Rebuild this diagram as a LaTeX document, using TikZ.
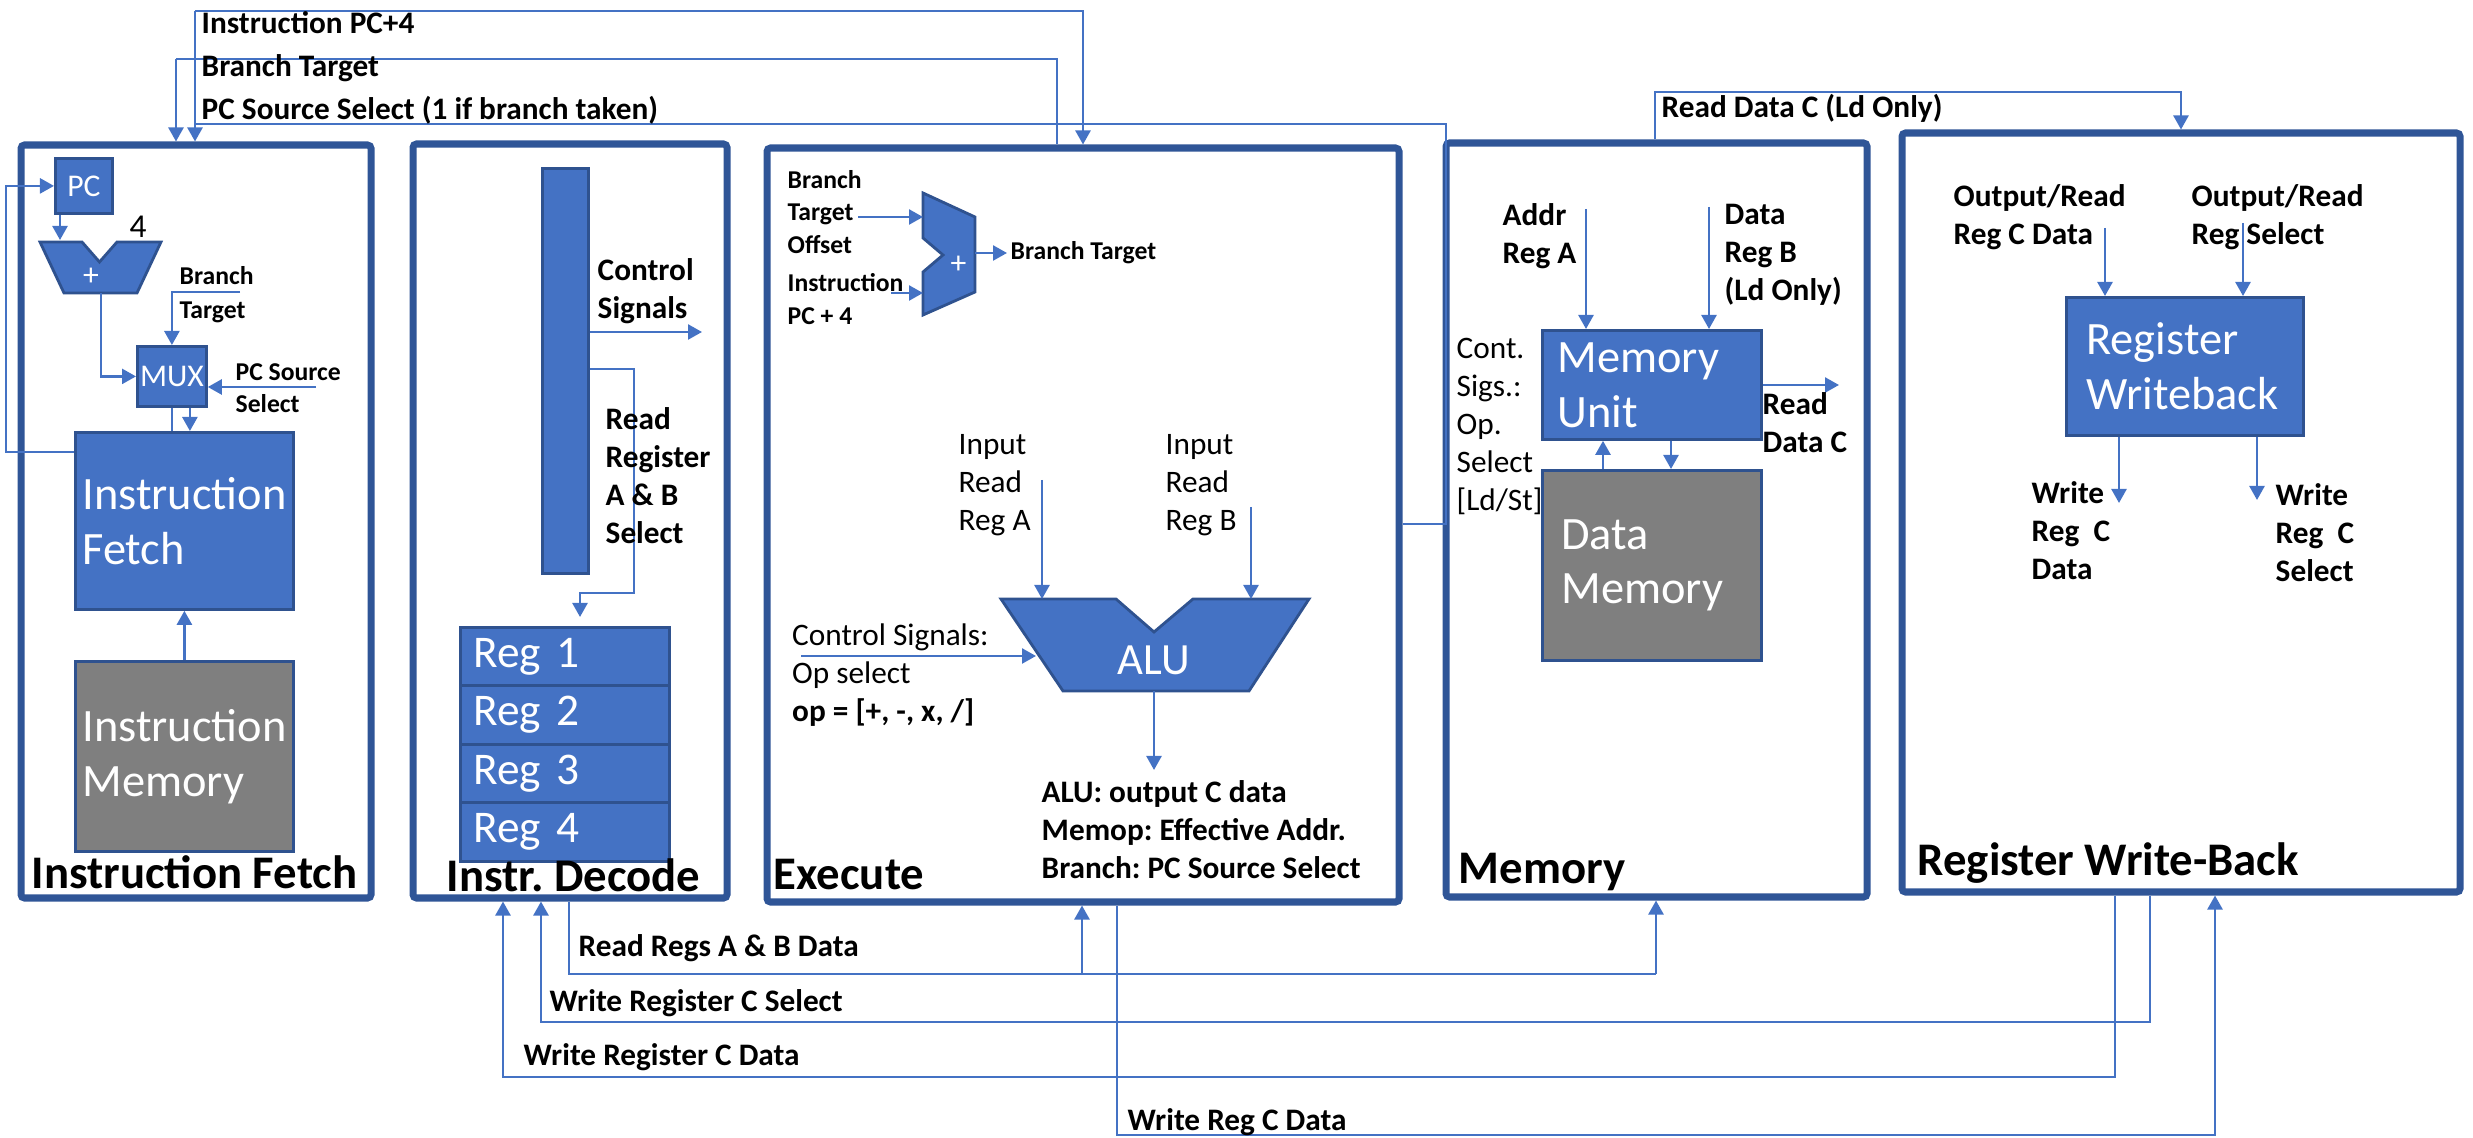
\documentclass[tikz,border=0pt]{standalone}
\usepackage{fontspec}
\setmainfont{Carlito}
\usepackage{xcolor}
\usetikzlibrary{arrows.meta, positioning}
\definecolor{boxblue}{HTML}{4472C4}
\definecolor{edgeblue}{HTML}{2F528F}
\definecolor{framblue}{HTML}{2F5597}
\definecolor{memgray}{HTML}{7F7F7F}
\frenchspacing

\begin{document}
\begin{tikzpicture}[x=1cm, y=-1cm,
  stage/.style={draw=framblue, line width=2pt, rounded corners=1pt, anchor=north west, inner sep=0pt},
  blk/.style={fill=boxblue, draw=edgeblue, line width=0.8pt, anchor=north west, inner sep=0pt, text=white},
  grayblk/.style={blk, fill=memgray},
  regbox/.style={minimum width=2.09cm, minimum height=0.585cm, text width=1.83cm, inner xsep=0.13cm, align=left, font=\fontsize{12.9}{14}\selectfont},
  wire/.style={draw=boxblue, line width=0.7pt},
  arr/.style={wire, -{Triangle[length=1.4mm, width=1.5mm]}},
  lbl/.style={anchor=west, inner sep=0pt, align=left, font=\bfseries\fontsize{8.9}{10.8}\selectfont},
  plbl/.style={lbl, font=\fontsize{8.9}{10.8}\selectfont},
  slbl/.style={lbl, font=\bfseries\fontsize{7.3}{9.2}\selectfont},
  wtxt/.style={font=\fontsize{13.2}{15.6}\selectfont, align=left},
  ttl/.style={anchor=west, inner sep=0pt, font=\bfseries\fontsize{13.3}{16}\selectfont}]
  \useasboundingbox (0,0) rectangle (24.73,11.38);

  % ---------- STAGE FRAMES ----------
  \node[stage, minimum width=3.50cm, minimum height=7.53cm] (sIF) at (0.175,1.415) {};
  \node[stage, minimum width=3.14cm, minimum height=7.54cm] (sID) at (4.095,1.405) {};
  \node[stage, minimum width=6.32cm, minimum height=7.54cm] (sEX) at (7.635,1.445) {};
  \node[stage, minimum width=4.21cm, minimum height=7.54cm] (sMEM) at (14.425,1.395) {};
  \node[stage, minimum width=5.58cm, minimum height=7.59cm] (sWB) at (18.985,1.295) {};

  % ---------- INSTRUCTION FETCH ----------
  \node[blk, minimum width=0.57cm, minimum height=0.55cm, font=\fontsize{9}{10}\selectfont] (pc) at (0.54,1.57) {PC};
  \coordinate (ad1) at (0.40,2.42);
  \coordinate (ad2) at (0.82,2.42);
  \coordinate (ad3) at (0.995,2.62);
  \coordinate (ad4) at (1.17,2.42);
  \coordinate (ad5) at (1.61,2.42);
  \coordinate (ad6) at (1.37,2.93);
  \coordinate (ad7) at (0.64,2.93);
  \filldraw[fill=boxblue, draw=edgeblue, line width=0.8pt] (ad1)--(ad2)--(ad3)--(ad4)--(ad5)--(ad6)--(ad7)--cycle;
  \node[text=white, font=\fontsize{9}{10}\selectfont] (addp) at (0.91,2.77) {+};
  \node[font=\fontsize{9.5}{10}\selectfont] (four) at (1.38,2.27) {4};
  \node[blk, minimum width=0.69cm, minimum height=0.60cm, font=\fontsize{9}{10}\selectfont] (mux) at (1.36,3.45) {MUX};
  \node[blk, wtxt, minimum width=2.18cm, minimum height=1.77cm] (ifblk) at (0.74,4.31) {Instruction\\Fetch};
  \node[grayblk, wtxt, minimum width=2.18cm, minimum height=1.90cm] (imem) at (0.74,6.60) {Instruction\\Memory};
  \node[ttl] (tIF) at (0.31,8.72) {Instruction Fetch};

  \draw[arr] ([yshift=-2.1mm]ifblk.north west) -- ++(-0.68,0) |- (pc.west);
  \coordinate (addin) at (0.60,2.40);
  \draw[arr] (pc.south -| addin) -- (addin);
  \coordinate (addout) at (1.01,2.93);
  \draw[arr] (addout) |- (mux.west);
  \coordinate (btin) at (2.40,2.92);
  \draw[arr] (btin) -| (mux.north);
  \node[slbl, font=\bfseries\fontsize{7.3}{9.7}\selectfont] (lbtin) at (1.79,2.95) {Branch\\Target};
  \coordinate (psin) at (3.16,3.87);
  \draw[arr] (psin) -- (psin -| mux.east);
  \node[slbl] (lpsin) at (2.35,3.885) {PC Source\\Select};
  \draw[wire] (mux.south) -- (mux.south |- ifblk.north);
  \draw[arr] ([xshift=1.8mm]mux.south) -- ([xshift=1.8mm]mux.south |- ifblk.north);
  \draw[arr] (imem.north) -- (ifblk.south);

  % ---------- TOP CONNECTORS ----------
  \coordinate (pcfour) at (1.95,0.11);
  \coordinate (pcfourR) at (10.83,0.11);
  \coordinate (btgt) at (1.76,0.59);
  \coordinate (btgtR) at (10.57,0.59);
  \coordinate (pssL) at (1.95,1.24);
  \coordinate (pssR) at (14.46,1.24);
  \coordinate (pssE) at (14.46,5.24);
  \draw[arr] (pcfour) -- (pcfour |- sIF.north);
  \draw[arr] (pcfour) -- (pcfourR) -- (pcfourR |- sEX.north);
  \draw[arr] (btgt) -- (btgt |- sIF.north);
  \draw[wire] (btgt) -- (btgtR) -- (btgtR |- sEX.north);
  \draw[wire] (pssE -| sEX.east) -- (pssE) -- (pssR) -- (pssL);
  \node[lbl] (lpc4) at (2.01,0.23) {Instruction PC+4};
  \node[lbl] (lbt) at (2.01,0.68) {Branch Target};
  \node[lbl] (lpss) at (2.01,1.10) {PC Source Select (1 if branch taken)};

  % ---------- INSTR. DECODE ----------
  \node[blk, minimum width=0.46cm, minimum height=4.05cm] (ctrl) at (5.41,1.67) {};
  \coordinate (csout) at (7.02,3.32);
  \draw[arr] (csout -| ctrl.east) -- (csout);
  \node[lbl] (lcs) at (5.97,2.91) {Control\\Signals};
  \coordinate (rrsel) at (6.34,3.69);
  \draw[arr] (rrsel -| ctrl.east) -- (rrsel) -- ++(0,2.24) -- ++(-0.54,0) -- ++(0,0.24);
  \node[lbl] (lrr) at (6.05,4.755) {Read\\Register\\A \& B\\Select};
  \foreach \i in {1,...,4}
    \node[blk, regbox] (reg\i) at (4.59,{6.26+0.585*(\i-1)}) {Reg \i};
  \node[ttl] (tID) at (4.46,8.75) {Instr. Decode};

  % ---------- EXECUTE ----------
  \coordinate (ba1) at (9.23,1.93);
  \coordinate (ba2) at (9.75,2.17);
  \coordinate (ba3) at (9.75,2.92);
  \coordinate (ba4) at (9.23,3.15);
  \coordinate (ba5) at (9.23,2.72);
  \coordinate (ba6) at (9.43,2.55);
  \coordinate (ba7) at (9.23,2.38);
  \filldraw[fill=boxblue, draw=edgeblue, line width=0.8pt] (ba1)--(ba2)--(ba3)--(ba4)--(ba5)--(ba6)--(ba7)--cycle;
  \node[text=white, font=\fontsize{9}{10}\selectfont] (bap) at (9.585,2.65) {+};
  \coordinate (bin1) at (9.23,2.17);
  \coordinate (bin2) at (9.23,2.93);
  \coordinate (bout) at (9.75,2.53);
  \draw[arr] ([xshift=-6.5mm]bin1) -- (bin1);
  \draw[arr] ([xshift=-3.2mm]bin2) -- (bin2);
  \draw[arr] (bout) -- ++(0.32,0);
  \node[slbl] (lbto) at (7.87,2.12) {Branch\\Target\\Offset};
  \node[slbl] (lipc) at (7.87,2.99) {Instruction\\PC + 4};
  \node[slbl] (lbtg) at (10.10,2.53) {Branch Target};

  \coordinate (al1) at (10.01,5.99);
  \coordinate (al2) at (11.16,5.99);
  \coordinate (al3) at (11.54,6.32);
  \coordinate (al4) at (11.93,5.99);
  \coordinate (al5) at (13.09,5.99);
  \coordinate (al6) at (12.49,6.91);
  \coordinate (al7) at (10.63,6.91);
  \filldraw[fill=boxblue, draw=edgeblue, line width=0.8pt] (al1)--(al2)--(al3)--(al4)--(al5)--(al6)--(al7)--cycle;
  \node[text=white, font=\fontsize{12.7}{14}\selectfont] (alu) at (11.54,6.60) {ALU};
  \coordinate (aluA) at (10.42,5.99);
  \coordinate (aluB) at (12.51,5.99);
  \coordinate (aluC) at (10.36,6.56);
  \coordinate (aluO) at (11.54,6.91);
  \draw[arr] ([yshift=11.9mm]aluA) -- (aluA);
  \draw[arr] ([yshift=9.2mm]aluB) -- (aluB);
  \draw[arr] ([xshift=-23.5mm]aluC) -- (aluC);
  \draw[arr] (aluO) -- ++(0,0.79);
  \node[plbl] (lra) at (9.58,4.85) {Input\\Read\\Reg A};
  \node[plbl] (lrb) at (11.65,4.85) {Input\\Read\\Reg B};
  \node[plbl] (lops) at (7.915,6.75) {Control Signals:\\Op select\\\textbf{op = [+, -, x, /]}};
  \node[lbl] (lalu) at (10.41,8.295) {ALU: output C data\\Memop: Effective Addr.\\Branch: PC Source Select};
  \node[ttl] (tEX) at (7.73,8.75) {Execute};

  % ---------- MEMORY ----------
  \node[blk, wtxt, minimum width=2.19cm, minimum height=1.09cm, text width=1.89cm, inner xsep=0.15cm] (memu) at (15.41,3.29) {Memory\\Unit};
  \node[grayblk, wtxt, minimum width=2.19cm, minimum height=1.90cm, text width=1.81cm, inner xsep=0.19cm] (dmem) at (15.41,4.69) {Data\\Memory};
  \coordinate (maddr) at (15.86,2.09);
  \draw[arr] (maddr) -- (maddr |- memu.north);
  \coordinate (mdata) at (17.09,2.07);
  \draw[arr] (mdata) -- (mdata |- memu.north);
  \coordinate (mrd) at (18.39,3.85);
  \draw[arr] (mrd -| memu.east) -- (mrd);
  \coordinate (mup) at (16.03,5);
  \draw[arr] (mup |- dmem.north) -- (mup |- memu.south);
  \coordinate (mdn) at (16.71,5);
  \draw[arr] (mdn |- memu.south) -- (mdn |- dmem.north);
  \node[lbl] (laddr) at (15.02,2.36) {Addr\\Reg A};
  \node[lbl] (ldata) at (17.24,2.55) {Data\\Reg B\\(Ld Only)};
  \node[plbl] (lcont) at (14.56,4.265) {Cont.\\Sigs.:\\Op.\\Select\\{[Ld/St]}};
  \node[lbl] (lrdc) at (17.62,4.225) {Read\\Data C};
  \coordinate (rdc) at (16.55,0.92);
  \coordinate (rdcR) at (21.81,0.92);
  \draw[arr] (rdc |- sMEM.north) -- (rdc) -- (rdcR) -- (rdcR |- sWB.north);
  \node[lbl] (lrdco) at (16.61,1.08) {Read Data C (Ld Only)};
  \node[ttl] (tMEM) at (14.58,8.72) {Memory};

  % ---------- REGISTER WRITE-BACK ----------
  \node[blk, wtxt, minimum width=2.37cm, minimum height=1.38cm, text width=1.97cm, inner xsep=0.2cm] (rwb) at (20.65,2.96) {Register\\Writeback};
  \coordinate (wbin1) at (21.05,2.28);
  \draw[arr] (wbin1) -- (wbin1 |- rwb.north);
  \coordinate (wbin2) at (22.43,2.23);
  \draw[arr] (wbin2) -- (wbin2 |- rwb.north);
  \coordinate (wbo1) at (21.19,5.03);
  \draw[arr] (wbo1 |- rwb.south) -- (wbo1);
  \coordinate (wbo2) at (22.57,5.00);
  \draw[arr] (wbo2 |- rwb.south) -- (wbo2);
  \node[lbl] (lwi1) at (19.53,2.175) {Output/Read\\Reg C Data};
  \node[lbl] (lwi2) at (21.91,2.175) {Output/Read\\Reg Select};
  \node[lbl] (lwo1) at (20.31,5.31) {Write\\Reg~~C\\Data};
  \node[lbl] (lwo2) at (22.75,5.325) {Write\\Reg~~C\\Select};
  \node[ttl] (tWB) at (19.17,8.63) {Register Write-Back};

  % ---------- BOTTOM CONNECTORS ----------
  \coordinate (rrd) at (5.69,9.74);
  \coordinate (rrdE) at (10.82,9.74);
  \coordinate (rrdM) at (16.56,9.74);
  \draw[wire] (rrd |- sID.south) -- (rrd) -- (rrdM);
  \draw[arr] (rrdE) -- (rrdE |- sEX.south);
  \draw[arr] (rrdM) -- (rrdM |- sMEM.south);
  \node[lbl] (lrrd) at (5.78,9.48) {Read Regs A \& B Data};
  \coordinate (wcs) at (21.50,10.22);
  \coordinate (wcsL) at (5.41,10.22);
  \draw[arr] (wcs |- sWB.south) -- (wcs) -- (wcsL) -- (wcsL |- sID.south);
  \node[lbl] (lwcs) at (5.49,10.03) {Write Register C Select};
  \coordinate (wcd) at (21.15,10.77);
  \coordinate (wcdL) at (5.03,10.77);
  \draw[arr] (wcd |- sWB.south) -- (wcd) -- (wcdL) -- (wcdL |- sID.south);
  \node[lbl] (lwcd) at (5.23,10.57) {Write Register C Data};
  \coordinate (wrc) at (11.17,11.35);
  \coordinate (wrcR) at (22.15,11.35);
  \draw[arr] (wrc |- sEX.south) -- (wrc) -- (wrcR) -- (wrcR |- sWB.south);
  \node[lbl] (lwrc) at (11.27,11.22) {Write Reg C Data};
\end{tikzpicture}
\end{document}
